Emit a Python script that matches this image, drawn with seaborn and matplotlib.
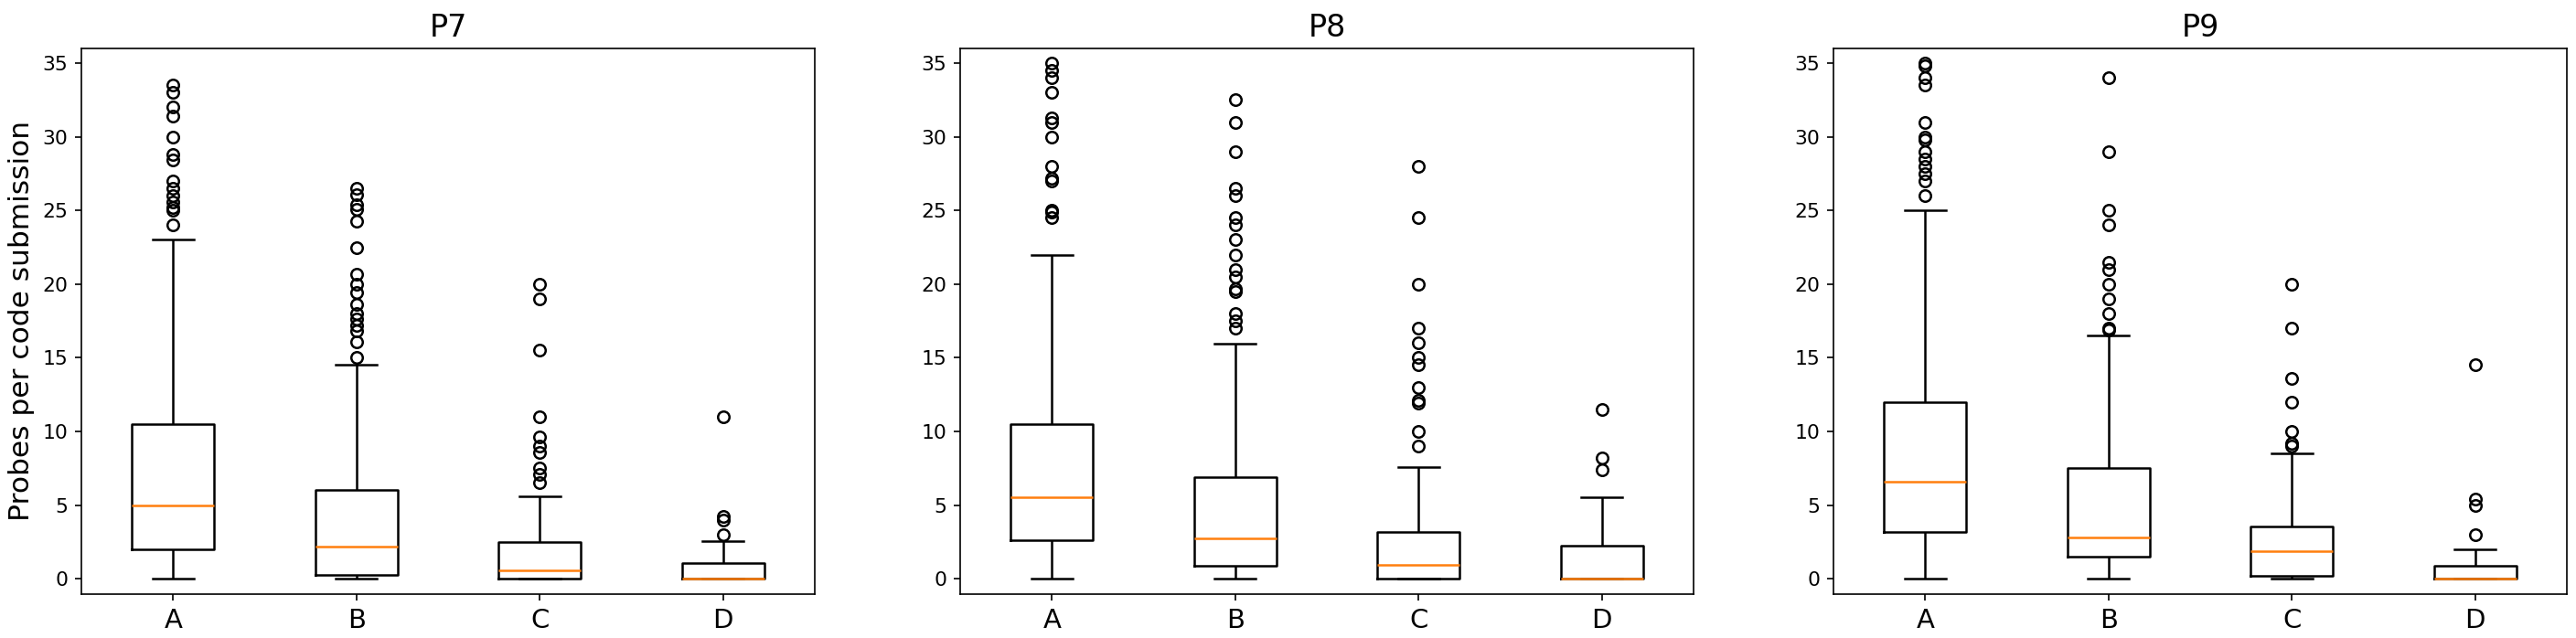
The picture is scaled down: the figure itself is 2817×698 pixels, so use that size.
"""
    Box plots of probes per code submission for problems P7, P8 and P9
"""
import numpy as np
import pandas as pd
import seaborn as sns
import matplotlib
matplotlib.use("Agg")
import matplotlib.pyplot as plt

problems = ["P7", "P8", "P9"]
groups = ["A", "B", "C", "D"]

# box summaries, one row per group A..D
whisker_low = {
    "P7": [0, 0, 0, 0],
    "P8": [0, 0, 0, 0],
    "P9": [0, 0, 0, 0],
}
q1 = {
    "P7": [2.0, 0.25, 0.0, 0.0],
    "P8": [2.6, 0.85, 0.0, 0.0],
    "P9": [3.2, 1.5, 0.2, 0.0],
}
median = {
    "P7": [5.0, 2.15, 0.55, 0.0],
    "P8": [5.5, 2.75, 0.95, 0.0],
    "P9": [6.6, 2.8, 1.85, 0.0],
}
q3 = {
    "P7": [10.5, 6.0, 2.5, 1.05],
    "P8": [10.5, 6.9, 3.2, 2.27],
    "P9": [12.0, 7.5, 3.56, 0.86],
}
whisker_high = {
    "P7": [23.0, 14.5, 5.6, 2.57],
    "P8": [22.0, 15.95, 7.6, 5.5],
    "P9": [25.0, 16.5, 8.5, 2.0],
}
outliers = {
    "P7": [
        [33.5, 33.0, 32.0, 31.4, 30.0, 28.8, 28.4, 27.0, 26.5, 26.0, 25.6, 25.2, 25.0, 24.0],
        [26.5, 26.1, 25.4, 25.05, 24.3, 22.5, 20.7, 20.0, 19.4, 18.6, 18.0, 17.6, 17.2, 16.8, 16.1, 15.0],
        [20.0, 19.0, 15.5, 11.0, 9.6, 9.0, 8.6, 7.5, 7.1, 6.5],
        [11.0, 4.2, 4.0, 3.0],
    ],
    "P8": [
        [35.0, 34.5, 34.0, 33.0, 31.3, 31.0, 30.0, 28.0, 27.2, 27.0, 25.0, 24.9, 24.5],
        [32.5, 31.0, 29.0, 26.5, 26.0, 24.5, 24.0, 23.0, 22.0, 21.0, 20.5, 19.7, 19.5, 18.0, 17.5, 17.0],
        [28.0, 24.5, 20.0, 17.0, 16.0, 15.0, 14.5, 13.0, 12.1, 11.9, 10.0, 9.0],
        [11.5, 8.2, 7.4],
    ],
    "P9": [
        [35.0, 34.8, 34.0, 33.5, 31.0, 30.0, 29.8, 29.0, 28.5, 28.0, 27.5, 27.0, 26.0],
        [34.0, 29.0, 25.0, 24.0, 21.5, 21.0, 20.0, 19.0, 18.0, 17.0, 16.9],
        [20.0, 17.0, 13.6, 12.0, 10.0, 9.2, 9.0],
        [14.5, 5.4, 5.0, 3.0],
    ],
}

# build a long table whose quartiles and whiskers reproduce the summaries
rows = []
for p in problems:
    for i, g in enumerate(groups):
        out = outliers[p][i]
        n = len(out) + 6
        vals = ([whisker_low[p][i]] + [q1[p][i]] * n + [median[p][i]] * n
                + [q3[p][i]] * n + [whisker_high[p][i]] + out)
        for v in vals:
            rows.append({"problem": p, "group": g, "value": v})
df = pd.DataFrame(rows)

fig = plt.figure(figsize=(2817 / 150, 698 / 150), dpi=150)
lefts = [89 / 2817, 1050 / 2817, 2005 / 2817]
width = 802 / 2817
bottom = 1 - 650 / 698
height = (650 - 53) / 698

for k, p in enumerate(problems):
    ax = fig.add_axes([lefts[k], bottom, width, height])
    sub = df[df["problem"] == p]
    sns.boxplot(
        data=sub, x="group", y="value", order=groups, ax=ax,
        fill=False, color="black", width=0.45, linewidth=1.2, whis=1.5,
        fliersize=6,
        medianprops={"color": "#ff7f0e"},
        flierprops={"marker": "o", "markerfacecolor": "none",
                    "markeredgecolor": "black", "markeredgewidth": 1.2},
    )
    ax.set_xlim(-0.5, 3.5)
    ax.set_ylim(-1.05, 36.0)
    ax.set_yticks([0, 5, 10, 15, 20, 25, 30, 35])
    ax.set_xlabel("")
    ax.set_ylabel("")
    ax.tick_params(axis="x", labelsize=14)
    ax.tick_params(axis="y", labelsize=10.5)
    ax.set_title(p, fontsize=16)
    for s in ax.spines.values():
        s.set_visible(True)
        s.set_color("black")
    if k == 0:
        ax.set_ylabel("Probes per code submission", fontsize=15)

fig.savefig("out.png", dpi=150)
